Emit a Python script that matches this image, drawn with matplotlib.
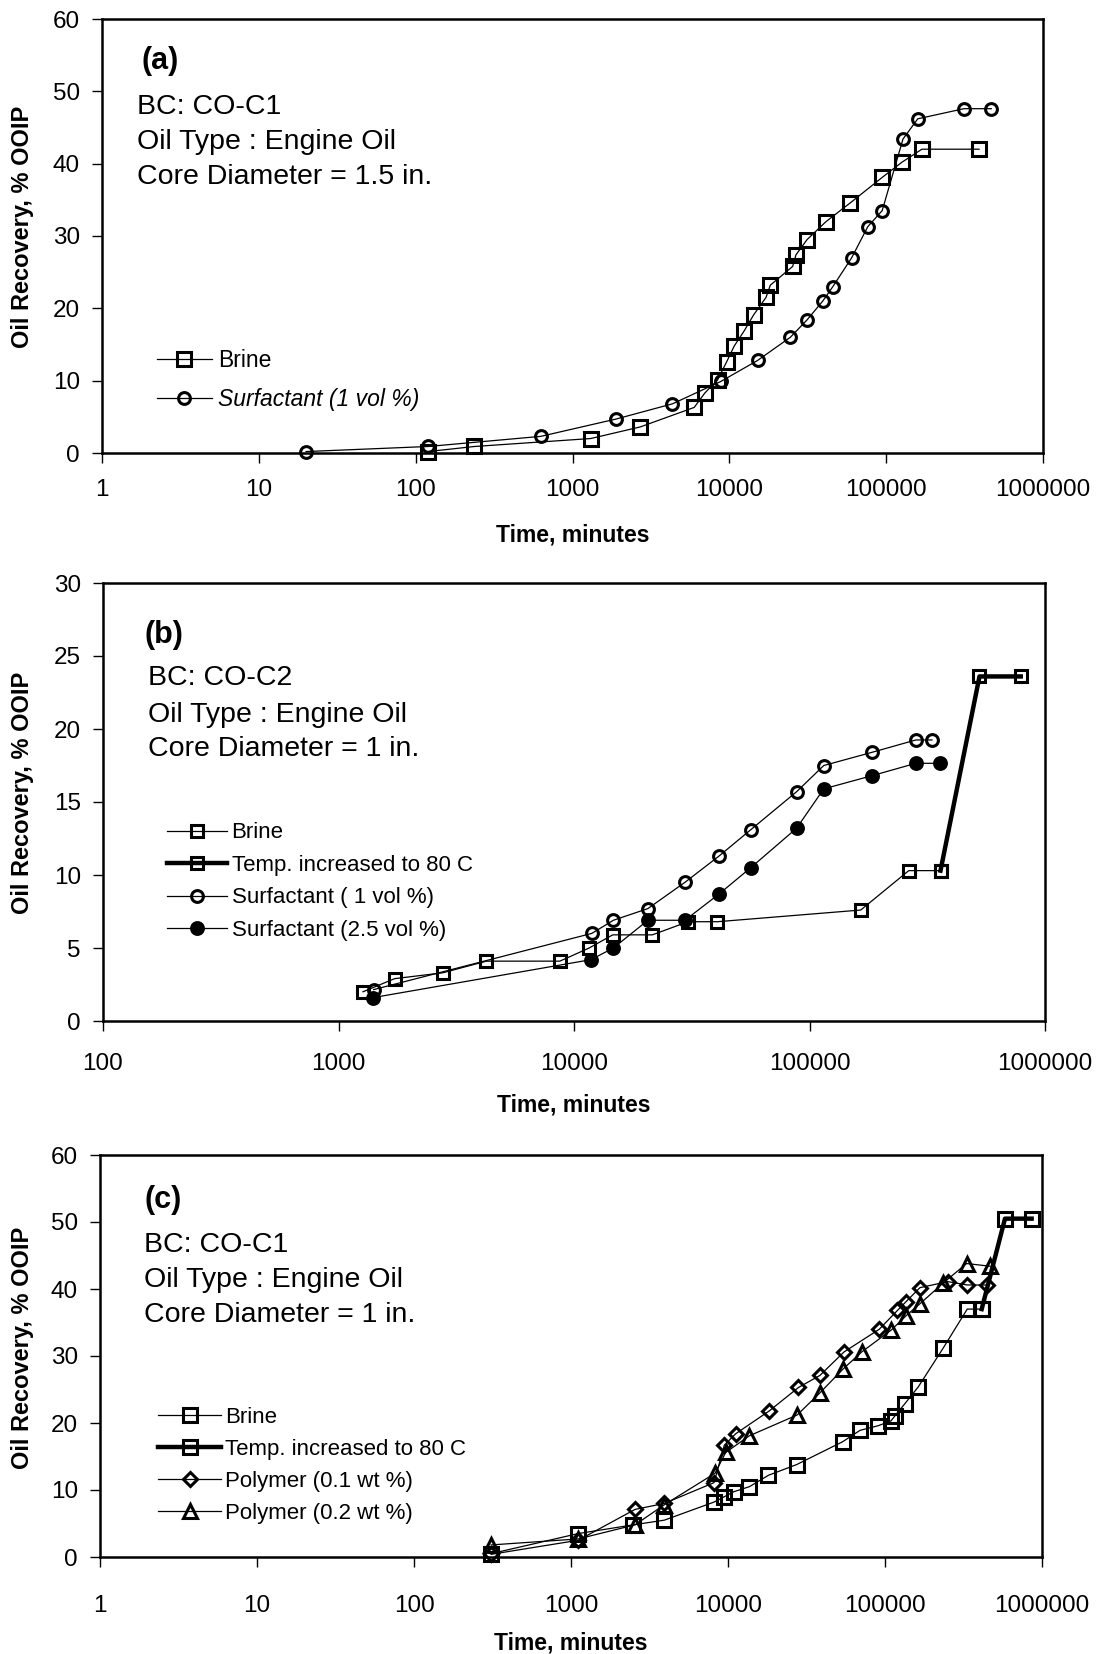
import matplotlib
matplotlib.use('Agg')
import matplotlib.pyplot as plt
from matplotlib.ticker import FixedLocator, FixedFormatter, NullLocator

plt.rcParams['font.family'] = ['Liberation Sans', 'DejaVu Sans']

# ---------------- Panel (a) data ----------------
a_brine_t = [120, 237, 1306, 2700, 5970, 6980, 8410, 9610, 10750, 12450, 14290,
             17130, 18250, 25350, 26600, 31300, 41400, 59200, 94300, 126000,
             169000, 391000]
a_brine_r = [0.2, 0.9, 2.0, 3.6, 6.3, 8.3, 10.1, 12.6, 14.8, 16.9, 19.1,
             21.5, 23.2, 25.8, 27.4, 29.5, 32.0, 34.6, 38.1, 40.2, 42.0, 42.0]
a_surf_t = [20, 120, 627, 1900, 4340, 8840, 15150, 24500, 31300, 39400, 45700,
            60300, 76400, 94300, 128000, 159000, 313000, 468000]
a_surf_r = [0.2, 0.9, 2.3, 4.7, 6.8, 9.9, 12.8, 16.0, 18.4, 21.0, 23.0,
            27.0, 31.3, 33.5, 43.4, 46.2, 47.6, 47.6]

# ---------------- Panel (b) data ----------------
b_brine_t = [1270, 1730, 2770, 4250, 8710, 11600, 14600, 21500, 30500, 40600,
             165000, 264000, 360000]
b_brine_r = [2.0, 2.9, 3.3, 4.1, 4.1, 5.0, 5.9, 5.9, 6.8, 6.8, 7.6, 10.3, 10.3]
b_temp_t = [360000, 527000, 789000]
b_temp_r = [10.3, 23.6, 23.6]
b_surf1_t = [1410, 11900, 14700, 20600, 29600, 41300, 56300, 88100, 115000,
             184000, 283000, 331000]
b_surf1_r = [2.15, 6.0, 6.9, 7.7, 9.5, 11.3, 13.1, 15.7, 17.5, 18.4, 19.25, 19.25]
b_surf25_t = [1400, 11800, 14700, 20600, 29600, 41300, 56300, 88100, 115000,
              184000, 283000, 357000]
b_surf25_r = [1.6, 4.2, 5.0, 6.9, 6.9, 8.7, 10.5, 13.2, 15.9, 16.8, 17.65, 17.65]

# ---------------- Panel (c) data ----------------
c_brine_t = [310, 1113, 2496, 3933, 8150, 9480, 10900, 13700, 18100, 27400,
             53700, 69300, 90600, 109000, 116000, 134000, 163000, 235000,
             334000, 413000]
c_brine_r = [0.5, 3.5, 4.8, 5.5, 8.2, 9.0, 9.75, 10.5, 12.2, 13.8, 17.2, 18.9,
             19.6, 20.3, 21.1, 22.9, 25.4, 31.2, 37.0, 37.0]
c_temp_t = [413000, 581000, 859000]
c_temp_r = [37.0, 50.5, 50.5]
c_poly1_t = [310, 1113, 2557, 3933, 8150, 9480, 11200, 18300, 28100, 38500,
             54800, 92000, 120000, 136000, 167000, 251000, 334000, 444000]
c_poly1_r = [0.4, 2.5, 7.1, 8.0, 11.1, 16.7, 18.4, 21.8, 25.3, 27.1, 30.6,
             34.0, 36.8, 38.1, 40.2, 41.1, 40.6, 40.6]
c_poly2_t = [310, 1113, 2557, 3933, 8270, 9660, 13700, 27600, 38500, 54300,
             71000, 110000, 136000, 167000, 235000, 331000, 467000]
c_poly2_r = [1.8, 2.7, 4.8, 7.8, 12.5, 15.6, 18.1, 21.2, 24.5, 28.1, 30.6,
             33.9, 36.0, 37.8, 40.9, 43.8, 43.4]

# ---------------- Axis ticks / labels ----------------
xt_a = [1, 10, 100, 1000, 10000, 100000, 1000000]
xl_a = ['1', '10', '100', '1000', '10000', '100000', '1000000']
xt_b = [100, 1000, 10000, 100000, 1000000]
xl_b = ['100', '1000', '10000', '100000', '1000000']
yt_a = [0, 10, 20, 30, 40, 50, 60]
yt_b = [0, 5, 10, 15, 20, 25, 30]

ann_a = ['BC: CO-C1', 'Oil Type : Engine Oil', 'Core Diameter = 1.5 in.']
ann_b = ['BC: CO-C2', 'Oil Type : Engine Oil', 'Core Diameter = 1 in.']
ann_c = ['BC: CO-C1', 'Oil Type : Engine Oil', 'Core Diameter = 1 in.']

fig = plt.figure(figsize=(11.05, 16.54), dpi=100)

rects = {
    'a': [102/1105, 1-453/1654, 941/1105, 434/1654],
    'b': [103/1105, 1-1021/1654, 942/1105, 438/1654],
    'c': [100/1105, 1-1557/1654, 942/1105, 402/1654],
}

MS = dict(color='black', lw=0.9, mew=2.2, clip_on=False)


def style_axes(ax, xt, xl, yt, xpad, xlab_y, ylab_x):
    ax.set_xscale('log')
    ax.set_xlim(xt[0], xt[-1])
    ax.set_ylim(yt[0], yt[-1])
    ax.xaxis.set_major_locator(FixedLocator(xt))
    ax.xaxis.set_major_formatter(FixedFormatter(xl))
    ax.xaxis.set_minor_locator(NullLocator())
    ax.set_yticks(yt)
    ax.set_yticklabels([str(v) for v in yt])
    for s in ax.spines.values():
        s.set_linewidth(1.8)
    ax.tick_params(axis='x', direction='out', length=7, width=1.0,
                   pad=xpad, labelsize=17.5)
    ax.tick_params(axis='y', direction='out', length=7, width=1.0,
                   pad=9, labelsize=17.5)
    ax.set_xlabel('Time, minutes', fontsize=16.5, fontweight='bold', va='center')
    ax.xaxis.set_label_coords(0.5, xlab_y)
    ax.set_ylabel('Oil Recovery, % OOIP', fontsize=17, fontweight='bold',
                  va='center')
    ax.yaxis.set_label_coords(ylab_x, 0.52)


def annotate(ax, tag, lines, xtag, ytag, xl, ys):
    ax.text(xtag, ytag, tag, transform=ax.transAxes, fontsize=22,
            fontweight='bold', va='center', ha='left')
    for s, y in zip(lines, ys):
        ax.text(xl, y, s, transform=ax.transAxes, fontsize=20.5,
                va='center', ha='left')


# ---------------- (a) ----------------
ax = fig.add_axes(rects['a'])
ax.plot(a_brine_t, a_brine_r, marker='s', ms=9.5, mfc='none', label='Brine', **MS)
ax.plot(a_surf_t, a_surf_r, marker='o', ms=8.5, mfc='none',
        label='Surfactant (1 vol %)', **MS)
style_axes(ax, xt_a, xl_a, yt_a, 12, -0.188, -0.084)
annotate(ax, '(a)', ann_a, 0.042, 0.903, 0.037, [0.798, 0.717, 0.636])
leg = ax.legend(loc='center left', bbox_to_anchor=(0.058, 0.168), frameon=False,
                fontsize=16.5, handlelength=2.4, handletextpad=0.3,
                labelspacing=0.72, borderpad=0, borderaxespad=0)
leg.get_texts()[1].set_fontstyle('italic')

# ---------------- (b) ----------------
ax = fig.add_axes(rects['b'])
ax.plot(b_brine_t, b_brine_r, marker='s', ms=9, mfc='none', label='Brine', **MS)
ax.plot(b_temp_t, b_temp_r, marker='s', ms=9, mfc='none', color='black',
        lw=3.2, mew=2.2, clip_on=False, label='Temp. increased to 80 C')
ax.plot(b_surf1_t, b_surf1_r, marker='o', ms=8.5, mfc='none',
        label='Surfactant ( 1 vol %)', **MS)
ax.plot(b_surf25_t, b_surf25_r, marker='o', ms=8.5, mfc='black',
        label='Surfactant (2.5 vol %)', **MS)
style_axes(ax, xt_b, xl_b, yt_b, 16, -0.192, -0.085)
annotate(ax, '(b)', ann_b, 0.044, 0.881, 0.048, [0.782, 0.698, 0.620])
ax.legend(loc='center left', bbox_to_anchor=(0.068, 0.318), frameon=False,
          fontsize=16, handlelength=2.7, handletextpad=0.2,
          labelspacing=0.52, borderpad=0, borderaxespad=0)

# ---------------- (c) ----------------
ax = fig.add_axes(rects['c'])
ax.plot(c_brine_t, c_brine_r, marker='s', ms=9.5, mfc='none', label='Brine', **MS)
ax.plot(c_temp_t, c_temp_r, marker='s', ms=9.5, mfc='none', color='black',
        lw=3.2, mew=2.2, clip_on=False, label='Temp. increased to 80 C')
ax.plot(c_poly1_t, c_poly1_r, marker='D', ms=7.5, mfc='none',
        label='Polymer (0.1 wt %)', **MS)
ax.plot(c_poly2_t, c_poly2_r, marker='^', ms=9.5, mfc='none',
        label='Polymer (0.2 wt %)', **MS)
style_axes(ax, xt_a, xl_a, yt_a, 20, -0.215, -0.082)
annotate(ax, '(c)', ann_c, 0.047, 0.888, 0.047, [0.776, 0.689, 0.602])
ax.legend(loc='center left', bbox_to_anchor=(0.062, 0.228), frameon=False,
          fontsize=16, handlelength=2.8, handletextpad=0.2,
          labelspacing=0.5, borderpad=0, borderaxespad=0)

fig.savefig('out.png', dpi=100)
